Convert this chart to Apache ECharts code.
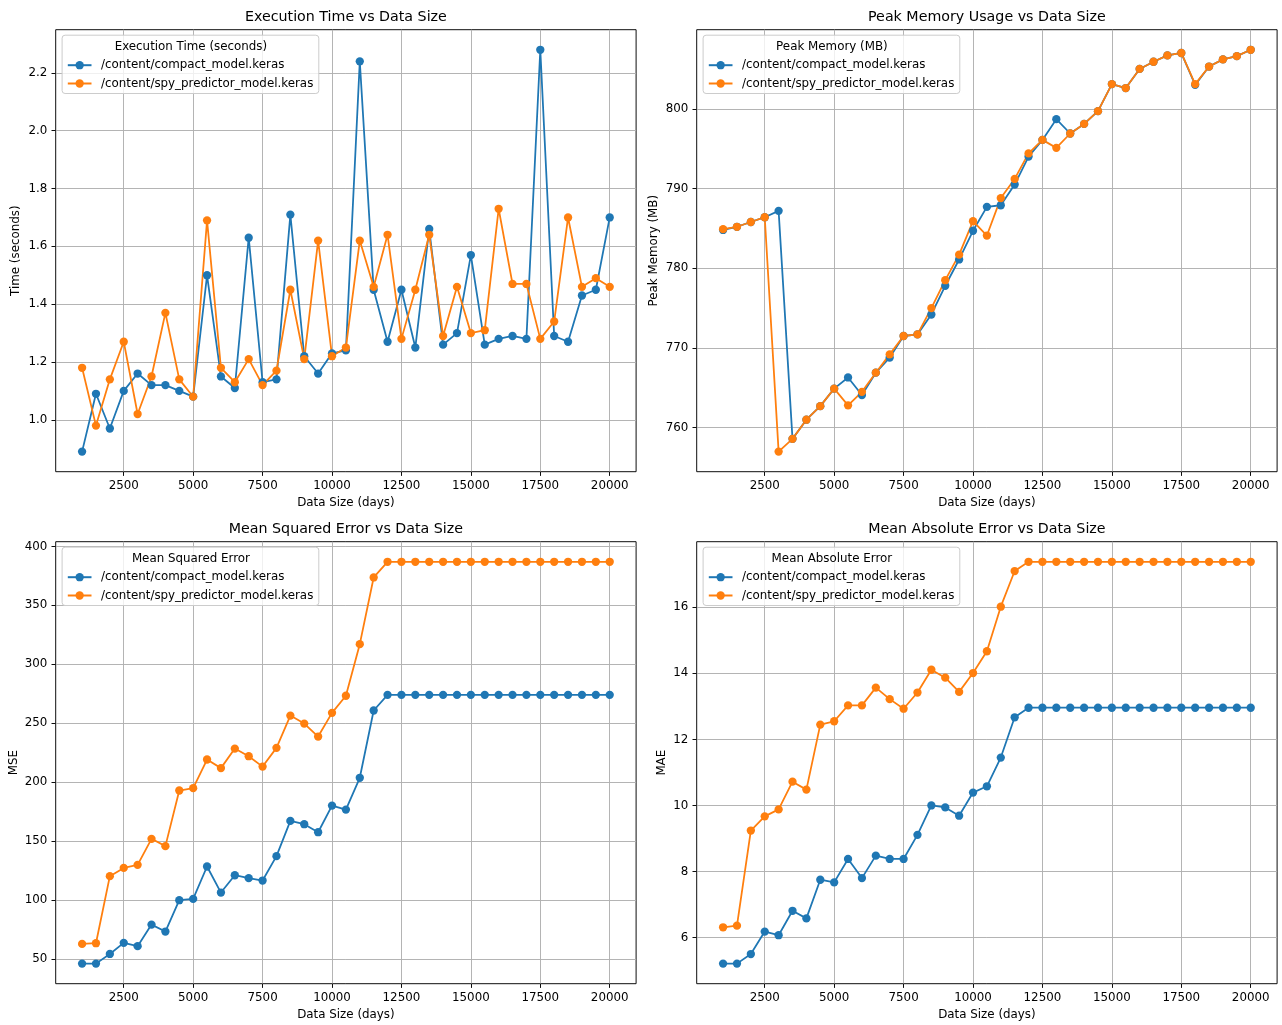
<!DOCTYPE html>
<html>
<head>
<meta charset="utf-8">
<script src="https://cdn.jsdelivr.net/npm/echarts@6/dist/echarts.min.js"></script>
<style>html,body{margin:0;padding:0;background:#fff}#c{width:1282px;height:1025px}</style>
</head>
<body>
<div id="c"></div>
<script>
// ---------------- data ----------------
const dataSize = [1000,1500,2000,2500,3000,3500,4000,4500,5000,5500,6000,6500,7000,7500,8000,8500,9000,9500,10000,10500,11000,11500,12000,12500,13000,13500,14000,14500,15000,15500,16000,16500,17000,17500,18000,18500,19000,19500,20000];
const modelNames = ['/content/compact_model.keras', '/content/spy_predictor_model.keras'];

const timeCompact = [0.89,1.09,0.97,1.10,1.16,1.12,1.12,1.10,1.08,1.50,1.15,1.11,1.63,1.13,1.14,1.71,1.22,1.16,1.23,1.24,2.24,1.45,1.27,1.45,1.25,1.66,1.26,1.30,1.57,1.26,1.28,1.29,1.28,2.28,1.29,1.27,1.43,1.45,1.70];
const timeSpy     = [1.18,0.98,1.14,1.27,1.02,1.15,1.37,1.14,1.08,1.69,1.18,1.13,1.21,1.12,1.17,1.45,1.21,1.62,1.22,1.25,1.62,1.46,1.64,1.28,1.45,1.64,1.29,1.46,1.30,1.31,1.73,1.47,1.47,1.28,1.34,1.70,1.46,1.49,1.46];

const memCompact = [784.8,785.2,785.8,786.4,787.2,758.6,761.0,762.7,764.9,766.3,764.1,766.9,768.8,771.5,771.7,774.2,777.8,781.1,784.7,787.7,787.9,790.5,794.0,796.1,798.7,796.9,798.1,799.7,803.1,802.6,805.0,805.9,806.7,807.0,803.0,805.3,806.2,806.6,807.4];
const memSpy     = [784.9,785.2,785.8,786.4,757.0,758.6,761.0,762.7,764.9,762.8,764.5,766.9,769.2,771.5,771.7,775.0,778.5,781.7,785.9,784.1,788.8,791.2,794.4,796.1,795.1,796.9,798.1,799.7,803.1,802.6,805.0,805.9,806.7,807.0,803.1,805.3,806.2,806.6,807.4];

const mseCompact = [46.0,46.0,54.2,63.6,60.8,79.1,73.2,99.8,100.9,128.4,106.3,121.0,118.5,116.5,137.2,167.1,164.3,157.5,180.1,176.7,203.7,260.8,274.1,274.1,274.1,274.1,274.1,274.1,274.1,274.1,274.1,274.1,274.1,274.1,274.1,274.1,274.1,274.1,274.1];
const mseSpy     = [62.7,63.3,120.2,127.2,129.8,151.9,145.7,192.9,194.9,219.2,211.9,228.5,222.0,213.2,229.1,256.5,249.7,238.7,258.8,273.3,317.1,373.7,387.0,387.0,387.0,387.0,387.0,387.0,387.0,387.0,387.0,387.0,387.0,387.0,387.0,387.0,387.0,387.0,387.0];

const maeCompact = [5.21,5.21,5.50,6.18,6.07,6.81,6.58,7.75,7.67,8.38,7.80,8.48,8.38,8.38,9.11,10.00,9.94,9.69,10.39,10.58,11.45,12.67,12.96,12.96,12.96,12.96,12.96,12.96,12.96,12.96,12.96,12.96,12.96,12.96,12.96,12.96,12.96,12.96,12.96];
const maeSpy     = [6.31,6.36,9.24,9.67,9.88,10.72,10.48,12.45,12.55,13.03,13.03,13.57,13.22,12.93,13.42,14.11,13.87,13.44,14.01,14.67,16.02,17.10,17.38,17.38,17.38,17.38,17.38,17.38,17.38,17.38,17.38,17.38,17.38,17.38,17.38,17.38,17.38,17.38,17.38];

const xTicks    = [2500,5000,7500,10000,12500,15000,17500,20000];
const timeTicks = [1.0,1.2,1.4,1.6,1.8,2.0,2.2];
const memTicks  = [760,770,780,790,800];
const mseTicks  = [50,100,150,200,250,300,350,400];
const maeTicks  = [6,8,10,12,14,16];

// ---------------- styling / layout ----------------
const FONT = 'DejaVu Sans';
const FS = 11.87;
const TFS = 14.24;
const BLUE = '#1f77b4', ORANGE = '#ff7f0e';
const GW = 580.4, GH = 442;

const panels = [
  {title:'Execution Time vs Data Size', ylabel:'Time (seconds)', ltitle:'Execution Time (seconds)', a:timeCompact, b:timeSpy, ticks:timeTicks, dec:1, left:55.7, top:29.7, nameGap:34},
  {title:'Peak Memory Usage vs Data Size', ylabel:'Peak Memory (MB)', ltitle:'Peak Memory (MB)', a:memCompact, b:memSpy, ticks:memTicks, dec:0, left:696.7, top:29.7, nameGap:36.7},
  {title:'Mean Squared Error vs Data Size', ylabel:'MSE', ltitle:'Mean Squared Error', a:mseCompact, b:mseSpy, ticks:mseTicks, dec:0, left:55.7, top:541.7, nameGap:36},
  {title:'Mean Absolute Error vs Data Size', ylabel:'MAE', ltitle:'Mean Absolute Error', a:maeCompact, b:maeSpy, ticks:maeTicks, dec:0, left:696.7, top:541.7, nameGap:28.7}
];

function padRange(arrs) {
  let lo = Infinity, hi = -Infinity;
  arrs.forEach(a => a.forEach(v => { if (v < lo) lo = v; if (v > hi) hi = v; }));
  const m = (hi - lo) * 0.05;
  return [lo - m, hi + m];
}
const xr = padRange([dataSize]);

const grids = [], xAxes = [], yAxes = [], series = [], legends = [], graphics = [];
const txt = {fontFamily: FONT, fontSize: FS, color: '#000'};

panels.forEach((p, i) => {
  grids.push({left: p.left, top: p.top, width: GW, height: GH, show: true, borderColor: '#000', borderWidth: 0.95, backgroundColor: 'transparent'});
  xAxes.push({
    type: 'value', gridIndex: i, min: xr[0], max: xr[1],
    axisLine: {show: false},
    axisTick: {show: true, length: 4.2, lineStyle: {color: '#000', width: 0.95}, customValues: xTicks},
    axisLabel: Object.assign({customValues: xTicks, formatter: v => String(v), margin: 8}, txt),
    splitLine: {show: true, lineStyle: {color: '#b0b0b0', width: 0.95}},
    name: 'Data Size (days)', nameLocation: 'middle', nameGap: 25.5, nameTextStyle: txt
  });
  const yr = padRange([p.a, p.b]);
  yAxes.push({
    type: 'value', gridIndex: i, min: yr[0], max: yr[1],
    axisLine: {show: false},
    axisTick: {show: true, length: 4.2, lineStyle: {color: '#000', width: 0.95}, customValues: p.ticks},
    axisLabel: Object.assign({customValues: p.ticks, formatter: v => v.toFixed(p.dec), margin: 8.35}, txt),
    splitLine: {show: true, lineStyle: {color: '#b0b0b0', width: 0.95}},
    name: p.ylabel, nameLocation: 'middle', nameGap: p.nameGap, nameTextStyle: txt
  });
  [[p.a, BLUE, modelNames[0]], [p.b, ORANGE, modelNames[1]]].forEach(([arr, col, nm]) => {
    series.push({
      type: 'line', name: nm, xAxisIndex: i, yAxisIndex: i,
      data: dataSize.map((x, j) => [x, arr[j]]),
      symbol: 'circle', symbolSize: 8.3, showSymbol: true,
      lineStyle: {color: col, width: 1.78},
      itemStyle: {color: col, borderWidth: 0},
      emphasis: {disabled: true}, silent: true
    });
  });
  const lx = p.left + 6.4, ly = p.top + 5.5;
  legends.push({
    data: modelNames, orient: 'vertical', left: lx, top: ly,
    padding: [23, 5.5, 3, 4.7], itemWidth: 23.7, itemHeight: 10.4, itemGap: 4.3,
    backgroundColor: 'rgba(255,255,255,0.8)', borderColor: '#cccccc', borderWidth: 1, borderRadius: 3,
    textStyle: {fontFamily: FONT, fontSize: FS, color: '#000', lineHeight: 14, padding: [0, 0, 0, 4.5]},
    selectedMode: false, z: 10
  });
  graphics.push({type: 'text', z: 100, x: lx + 128.8, y: ly + 11.8,
    style: {text: p.ltitle, fontFamily: FONT, fontSize: FS, fill: '#000', textAlign: 'center', textVerticalAlign: 'middle'}});
  graphics.push({type: 'text', z: 100, x: p.left + GW / 2, y: p.top - 12,
    style: {text: p.title, fontFamily: FONT, fontSize: TFS, fill: '#000', textAlign: 'center', textVerticalAlign: 'middle'}});
});

const chart = echarts.init(document.getElementById('c'), null, {renderer: 'canvas'});
chart.setOption({
  animation: false,
  backgroundColor: '#fff',
  textStyle: {fontFamily: FONT},
  grid: grids, xAxis: xAxes, yAxis: yAxes, series: series, legend: legends,
  graphic: graphics
});
</script>
</body>
</html>
